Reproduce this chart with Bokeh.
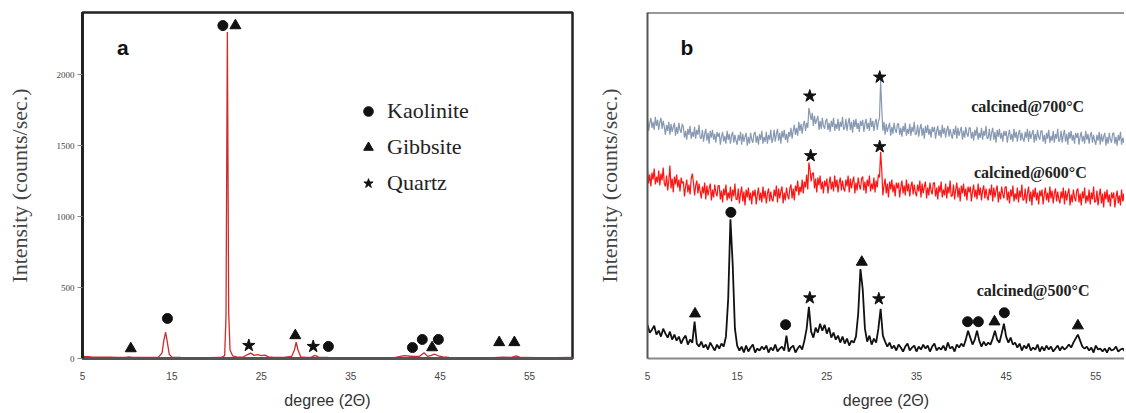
import numpy as np
from bokeh.plotting import figure
from bokeh.models import Range1d, Legend, LegendItem, Label, Span, FixedTicker
from bokeh.layouts import row
from bokeh.embed import file_html
from bokeh.resources import INLINE

# ---------------- Panel a data (raw clay) ----------------
two_theta_a = [5.0, 6.0, 7.0, 8.0, 9.0, 9.8, 10.2, 10.6, 11.5, 12.5, 13.5,
               13.9, 14.1, 14.3, 14.5, 14.7, 15.0, 16.0, 17.5, 19.0, 20.5,
               20.9, 21.05, 21.2, 21.35, 21.5, 21.8, 22.3, 23.0, 23.4, 23.8,
               24.2, 24.6, 25.0, 25.4, 25.8, 26.4, 27.5, 28.4, 28.7, 28.9,
               29.1, 29.4, 30.0, 30.6, 31.0, 31.4, 32.5, 34.0, 36.0, 38.0,
               40.0, 41.0, 42.0, 42.7, 43.2, 43.6, 44.0, 44.4, 44.8, 45.3,
               46.0, 47.0, 49.0, 51.0, 52.0, 53.0, 53.5, 54.0, 56.0, 58.0, 60.0]
counts_a = [15, 12, 10, 9, 8, 8, 12, 8, 7, 7, 10,
            40, 130, 185, 110, 30, 10, 7, 6, 6, 7,
            20, 300, 2300, 320, 60, 18, 10, 12, 25, 38,
            22, 28, 20, 24, 12, 8, 7, 15, 60, 115,
            60, 12, 8, 10, 22, 10, 7, 6, 6, 6,
            8, 20, 14, 16, 40, 15, 22, 30, 18, 12,
            8, 6, 6, 6, 10, 8, 18, 7, 6, 6, 7]

kaolinite_a_x = [14.5, 20.7, 32.5, 41.9, 43.0, 44.8]
kaolinite_a_y = [282, 2345, 85, 77, 134, 134]
gibbsite_a_x = [10.4, 22.1, 28.8, 44.1, 51.6, 53.3]
gibbsite_a_y = [70, 2345, 162, 77, 113, 113]
quartz_a_x = [23.6, 30.8]
quartz_a_y = [92, 85]

ticks_x = [5, 15, 25, 35, 45, 55]
ticks_y_a = [0, 500, 1000, 1500, 2000]

# ---------------- Panel b data (calcined, offset traces) ----------------
two_theta_500_start = 5.0
two_theta_500_step = 0.25
calcined_500 = [
    34, 26, 29, 33, 24, 28, 22, 30, 25, 21, 27, 19,
    24, 18, 22, 15, 20, 23, 14, 19,
    16, 37, 15, 12,
    17, 11, 14, 9, 16, 12, 8, 14, 10, 15, 12, 22,
    60, 140, 95, 30, 13, 8, 12, 6,
    13, 7, 11, 14, 6, 10, 8, 12,
    9, 13, 6, 11, 8, 14, 7, 10,
    12, 8, 23, 7, 11, 13, 6, 10,
    13, 9, 18, 30, 52, 27, 21, 31,
    26, 35, 28, 34, 25, 31, 21, 26,
    19, 23, 16, 22, 15, 20, 13, 18,
    16, 22, 45, 90, 70, 30, 17, 23,
    14, 20, 16, 30, 50, 23, 17, 12,
    16, 10, 13, 8, 14, 11, 7, 12,
    15, 8, 11, 13, 7, 12, 9, 14,
    10, 13, 7, 12, 15, 8, 11, 9,
    13, 8, 16, 10, 12, 7, 14, 11,
    15, 12, 19, 28, 21, 14, 19, 28,
    18, 12, 17, 13, 16, 14, 20, 28,
    19, 16, 25, 35, 22, 16, 21, 14,
    16, 11, 15, 8, 13, 10, 15, 8,
    11, 9, 14, 7, 12, 8, 13, 9,
    12, 7, 10, 13, 8, 12, 9, 11,
    14, 11, 16, 20, 24, 18, 12, 10,
    12, 8, 11, 6, 13, 9, 10, 7,
    10, 6, 11, 8, 9, 12, 7, 9,
    10, 7,
]

two_theta_hi_start = 5.0
two_theta_hi_step = 0.125
calcined_600 = [
    190, 176, 185, 173, 187, 180, 191, 175, 183, 177, 189, 174, 186, 179, 192, 176,
    173, 184, 169, 179, 194, 171, 181, 167, 183, 175, 185, 172, 180, 168, 182, 176,
    178, 163, 173, 180, 167, 175, 165, 181, 186, 177, 164, 174, 179, 166, 176, 168,
    161, 173, 166, 177, 160, 174, 164, 171, 176, 159, 170, 162, 175, 167, 163, 174,
    174, 160, 169, 157, 171, 164, 175, 159, 167, 161, 173, 158, 170, 163, 176, 160,
    160, 171, 156, 166, 173, 158, 168, 154, 170, 162, 172, 159, 167, 155, 169, 163,
    170, 155, 165, 172, 159, 167, 157, 173, 161, 169, 156, 166, 171, 158, 168, 160,
    158, 170, 163, 174, 157, 171, 161, 168, 173, 156, 167, 159, 172, 164, 160, 171,
    175, 161, 171, 159, 174, 168, 179, 164, 173, 167, 180, 166, 178, 172, 185, 170,
    197, 190, 178, 186, 187, 171, 181, 167, 182, 174, 184, 170, 178, 166, 179, 173,
    181, 166, 176, 183, 170, 178, 168, 184, 172, 180, 167, 177, 182, 169, 179, 171,
    168, 180, 173, 184, 167, 181, 171, 178, 183, 166, 177, 169, 182, 174, 170, 181,
    183, 169, 178, 166, 180, 173, 184, 168, 176, 170, 182, 167, 179, 172, 185, 182,
    208, 190, 164, 174, 181, 166, 176, 162, 178, 170, 180, 167, 175, 163, 177, 171,
    177, 162, 172, 179, 166, 174, 164, 180, 168, 176, 163, 173, 178, 165, 175, 167,
    163, 175, 168, 179, 162, 176, 166, 173, 178, 161, 172, 164, 177, 169, 165, 176,
    177, 163, 172, 160, 174, 167, 178, 162, 170, 164, 176, 161, 173, 166, 179, 163,
    164, 175, 160, 170, 177, 162, 172, 158, 174, 166, 176, 163, 171, 159, 173, 167,
    173, 158, 168, 175, 162, 170, 160, 176, 164, 172, 159, 169, 174, 161, 171, 163,
    159, 171, 164, 175, 158, 172, 162, 169, 174, 157, 168, 160, 173, 165, 161, 172,
    173, 159, 168, 156, 170, 163, 174, 158, 166, 160, 172, 157, 169, 162, 175, 159,
    160, 171, 156, 166, 173, 158, 168, 154, 170, 162, 172, 159, 167, 155, 169, 163,
    170, 155, 165, 172, 159, 167, 157, 173, 161, 169, 156, 166, 171, 158, 168, 160,
    156, 168, 161, 172, 155, 169, 159, 166, 171, 154, 165, 157, 170, 162, 158, 169,
    171, 157, 166, 154, 168, 161, 172, 156, 164, 158, 170, 155, 167, 160, 173, 157,
    158, 169, 154, 164, 171, 156, 166, 152, 168, 160, 170, 157, 165, 153, 167, 161,
    167, 152, 162, 169, 156, 164, 154, 170, 158, 166, 153,
]

calcined_700 = [
    241, 229, 237, 242, 232, 238, 230, 243, 234, 240, 230, 238, 242, 231, 239, 233,
    225, 235, 229, 238, 225, 236, 228, 233, 237, 224, 233, 226, 237, 230, 227, 236,
    233, 222, 229, 220, 231, 225, 234, 221, 228, 223, 233, 221, 230, 225, 235, 222,
    221, 230, 218, 226, 231, 219, 227, 216, 229, 222, 230, 220, 226, 217, 228, 223,
    227, 215, 223, 228, 218, 224, 216, 229, 220, 226, 216, 224, 228, 217, 225, 219,
    215, 225, 219, 228, 215, 226, 218, 223, 227, 214, 223, 216, 227, 220, 217, 226,
    228, 217, 224, 215, 226, 220, 229, 216, 223, 218, 228, 216, 225, 220, 230, 217,
    221, 230, 218, 226, 231, 219, 227, 216, 229, 222, 230, 220, 226, 217, 228, 223,
    232, 221, 229, 235, 225, 232, 224, 238, 229, 236, 226, 235, 239, 229, 237, 232,
    252, 246, 240, 247, 234, 244, 236, 240, 244, 230, 239, 231, 242, 234, 231, 239,
    241, 230, 237, 228, 239, 233, 242, 229, 236, 231, 241, 229, 238, 233, 243, 230,
    232, 241, 229, 237, 242, 230, 238, 227, 240, 233, 241, 231, 237, 228, 239, 234,
    240, 228, 236, 241, 231, 237, 229, 242, 233, 239, 229, 237, 241, 230, 238, 242,
    279, 252, 229, 238, 225, 236, 228, 233, 237, 224, 233, 226, 237, 230, 227, 236,
    236, 225, 232, 223, 234, 228, 237, 224, 231, 226, 236, 224, 233, 228, 238, 225,
    226, 235, 223, 231, 236, 224, 232, 221, 234, 227, 235, 225, 231, 222, 233, 228,
    233, 221, 229, 234, 224, 230, 222, 235, 226, 232, 222, 230, 234, 223, 231, 225,
    221, 231, 225, 234, 221, 232, 224, 229, 233, 220, 229, 222, 233, 226, 223, 232,
    232, 221, 228, 219, 230, 224, 233, 220, 227, 222, 232, 220, 229, 224, 234, 221,
    222, 231, 219, 227, 232, 220, 228, 217, 230, 223, 231, 221, 227, 218, 229, 224,
    229, 217, 225, 230, 220, 226, 218, 231, 222, 228, 218, 226, 230, 219, 227, 221,
    218, 228, 222, 231, 218, 229, 221, 226, 230, 217, 226, 219, 230, 223, 220, 229,
    229, 218, 225, 216, 227, 221, 230, 217, 224, 219, 229, 217, 226, 221, 231, 218,
    220, 229, 217, 225, 230, 218, 226, 215, 228, 221, 229, 219, 225, 216, 227, 222,
    227, 215, 223, 228, 218, 224, 216, 229, 220, 226, 216, 224, 228, 217, 225, 219,
    215, 225, 219, 228, 215, 226, 218, 223, 227, 214, 223, 216, 227, 220, 217, 226,
    227, 216, 223, 214, 225, 219, 228, 215, 222, 217, 227,
]

kaolinite_b_x = [14.3, 20.4, 40.7, 41.9, 44.8]
kaolinite_b_y = [147, 34, 37, 37, 46]
gibbsite_b_x = [10.3, 28.9, 43.7, 53.0]
gibbsite_b_y = [45, 97, 37, 33]
quartz_b_x = [23.1, 30.9, 23.2, 30.9, 23.1, 30.8]
quartz_b_y = [264, 283, 204, 213, 61, 60]

trace_names = ["calcined@700°C", "calcined@600°C", "calcined@500°C"]
trace_label_x = [47.4, 47.7, 48.0]
trace_label_y = [253, 187, 68]

MK = "#111111"

# ---------------- Figure a ----------------
pa = figure(width=593, height=411, x_range=Range1d(5, 59.8), y_range=Range1d(0, 2437),
            output_backend="svg", toolbar_location=None,
            min_border_left=82, min_border_right=21, min_border_top=12, min_border_bottom=53)
pa.grid.visible = False
pa.outline_line_color = "#222222"
pa.outline_line_width = 2.5

pa.line(two_theta_a, counts_a, line_color="#cc2b2b", line_width=1.3)
r_k = pa.scatter(kaolinite_a_x, kaolinite_a_y, marker="circle", size=10, color=MK)
r_g = pa.scatter(gibbsite_a_x, gibbsite_a_y, marker="triangle", size=11, color=MK)
r_q = pa.scatter(quartz_a_x, quartz_a_y, marker="star", size=13, color=MK)

legend = Legend(items=[LegendItem(label="Kaolinite", renderers=[r_k]),
                       LegendItem(label="Gibbsite", renderers=[r_g]),
                       LegendItem(label="Quartz", renderers=[r_q])],
                location=(274, 162), padding=0, margin=0, spacing=10,
                glyph_width=24, glyph_height=24, label_height=20, label_standoff=7,
                label_text_font="Liberation Serif", label_text_font_size="22px",
                label_text_color="#222222", border_line_alpha=0, background_fill_alpha=0)
pa.add_layout(legend, "center")

pa.add_layout(Label(x=9.5, y=2190, text="a", text_font="Liberation Sans", text_font_style="bold",
                    text_font_size="21px", text_align="center", text_baseline="middle",
                    text_color="#111111"))

xa = pa.xaxis[0]
xa.ticker = FixedTicker(ticks=ticks_x)
xa.major_tick_out = 0
xa.major_tick_in = 0
xa.minor_tick_out = 0
xa.minor_tick_in = 0
xa.axis_line_color = "#555555"
xa.axis_line_width = 3
xa.major_label_standoff = 13
xa.major_label_text_font = "Liberation Sans"
xa.major_label_text_font_size = "10px"
xa.major_label_text_color = "#444444"
xa.axis_label = "degree (2Θ)"
xa.axis_label_text_font = "Liberation Sans"
xa.axis_label_text_font_size = "16px"
xa.axis_label_text_font_style = "normal"
xa.axis_label_text_color = "#333333"
xa.axis_label_standoff = 9

ya = pa.yaxis[0]
ya.ticker = FixedTicker(ticks=ticks_y_a)
ya.major_tick_out = 5
ya.major_tick_in = 0
ya.minor_tick_out = 0
ya.minor_tick_in = 0
ya.major_tick_line_color = "#888888"
ya.axis_line_color = "#222222"
ya.axis_line_width = 3
ya.major_label_standoff = 3
ya.major_label_text_font = "Liberation Serif"
ya.major_label_text_font_size = "9px"
ya.major_label_text_color = "#444444"
ya.axis_label = "Intensity (counts/sec.)"
ya.axis_label_text_font = "Liberation Serif"
ya.axis_label_text_font_size = "22px"
ya.axis_label_text_font_style = "normal"
ya.axis_label_text_color = "#444444"
ya.axis_label_standoff = 22

# ---------------- Figure b ----------------
pb = figure(width=531, height=411, x_range=Range1d(5, 58.2), y_range=Range1d(0, 348),
            output_backend="svg", toolbar_location=None,
            min_border_left=52, min_border_right=0, min_border_top=12, min_border_bottom=51)
pb.grid.visible = False
pb.outline_line_color = None

xb5 = two_theta_500_start + two_theta_500_step * np.arange(len(calcined_500))
pb.line(xb5, calcined_500, line_color="#111111", line_width=1.8)
xb6 = two_theta_hi_start + two_theta_hi_step * np.arange(len(calcined_600))
pb.line(xb6, calcined_600, line_color="#ff1414", line_width=1.2)
xb7 = two_theta_hi_start + two_theta_hi_step * np.arange(len(calcined_700))
pb.line(xb7, calcined_700, line_color="#8698b2", line_width=1.2)

pb.scatter(kaolinite_b_x, kaolinite_b_y, marker="circle", size=10, color=MK)
pb.scatter(gibbsite_b_x, gibbsite_b_y, marker="triangle", size=11, color=MK)
pb.scatter(quartz_b_x, quartz_b_y, marker="star", size=13, color=MK)

for nm, lx, ly in zip(trace_names, trace_label_x, trace_label_y):
    pb.add_layout(Label(x=lx, y=ly, text=nm, text_font="Liberation Serif", text_font_style="bold",
                        text_font_size="16px", text_align="center", text_baseline="middle",
                        text_color="#222222"))

pb.add_layout(Label(x=9.4, y=313, text="b", text_font="Liberation Sans", text_font_style="bold",
                    text_font_size="21px", text_align="center", text_baseline="middle",
                    text_color="#111111"))

pb.add_layout(Span(location=348, dimension="width", line_color="#333333", line_width=2))

xbx = pb.xaxis[0]
xbx.ticker = FixedTicker(ticks=ticks_x)
xbx.major_tick_out = 0
xbx.major_tick_in = 0
xbx.minor_tick_out = 0
xbx.minor_tick_in = 0
xbx.axis_line_color = "#888888"
xbx.axis_line_width = 2
xbx.major_label_standoff = 13
xbx.major_label_text_font = "Liberation Sans"
xbx.major_label_text_font_size = "10px"
xbx.major_label_text_color = "#444444"
xbx.axis_label = "degree (2Θ)"
xbx.axis_label_text_font = "Liberation Sans"
xbx.axis_label_text_font_size = "16px"
xbx.axis_label_text_font_style = "normal"
xbx.axis_label_text_color = "#333333"
xbx.axis_label_standoff = 9

yb = pb.yaxis[0]
yb.ticker = FixedTicker(ticks=[])
yb.major_tick_out = 0
yb.major_tick_in = 0
yb.minor_tick_out = 0
yb.minor_tick_in = 0
yb.axis_line_color = "#555555"
yb.axis_line_width = 2
yb.axis_label = "Intensity (counts/sec.)"
yb.axis_label_text_font = "Liberation Serif"
yb.axis_label_text_font_size = "22px"
yb.axis_label_text_font_style = "normal"
yb.axis_label_text_color = "#444444"
yb.axis_label_standoff = 26

layout = row(pa, pb)
open("out.html", "w").write(file_html(layout, INLINE))
